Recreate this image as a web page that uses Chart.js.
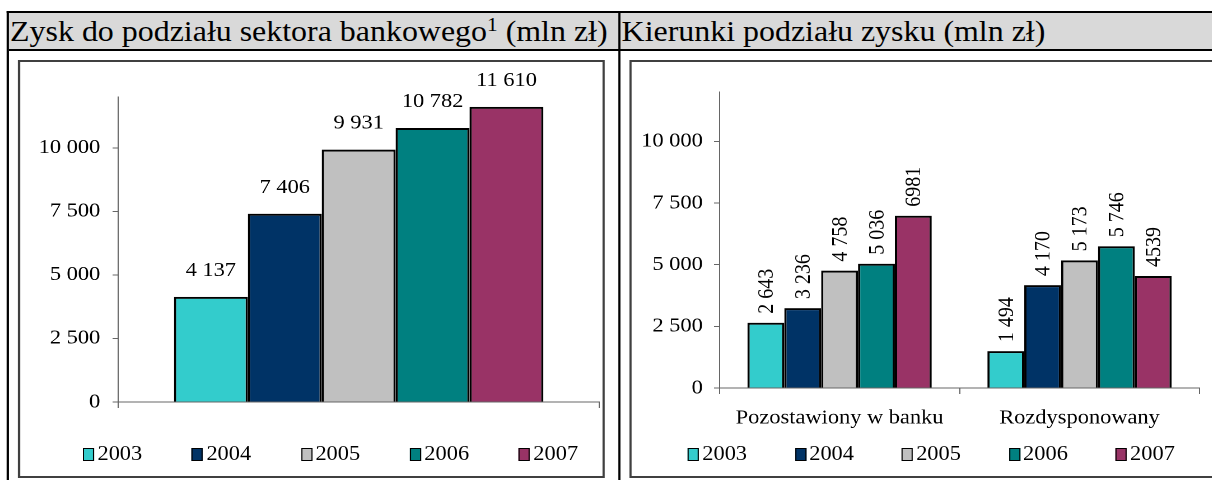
<!DOCTYPE html>
<html lang="pl">
<head>
<meta charset="utf-8">
<title>Zysk do podziału sektora bankowego</title>
<script src="https://cdn.jsdelivr.net/npm/chart.js@4.4.1/dist/chart.umd.min.js"></script>
<style>
    html, body { margin: 0; padding: 0; background: #fff; overflow: hidden; }
    body { width: 1212px; height: 480px; position: relative; }

    /* The source page is printed slightly wide, so lay out narrow and stretch */
    #page {
        position: absolute; left: 0; top: 0; width: 1083px; height: 480px;
        transform: scaleX(1.12); transform-origin: 0 0;
        font-family: "Liberation Serif", "Times New Roman", serif; color: #000;
    }
    .outer { position: absolute; left: 6px; top: 11px; width: 1100px; height: 480px; border-left: 2px solid #000; border-top: 2px solid #000; }
    .head { position: absolute; left: 8px; top: 13px; width: 1100px; height: 36px; background: #d9d9d9; border-bottom: 2px solid #000; }
    .divider { position: absolute; left: 552px; top: 13px; width: 2px; height: 470px; background: #000; }
    .title { position: absolute; top: 14px; height: 36px; line-height: 36px; font-size: 28.5px; white-space: nowrap; }
    .title sup { font-size: 19px; line-height: 1; vertical-align: top; position: relative; top: 1px; }

    .frame { position: absolute; top: 60px; height: 418px; box-sizing: border-box; border: 2px solid #404040; }
    .chart-box { position: absolute; top: 62px; width: 520px; height: 414px; }

    .legend { position: absolute; top: 441px; height: 24px; font-size: 20px; line-height: 24px; white-space: nowrap; }
    .legend span { position: absolute; top: 0; }
    .legend i { display: inline-block; width: 8px; height: 11px; border: 1.5px solid #000; margin-right: 3px; vertical-align: -1px; }
</style>
</head>
<body>
<div id="page">
    <div class="outer"></div>
    <div class="head"></div>
    <div class="divider"></div>
    <div class="title" style="left:9px">Zysk do podziału sektora bankowego<sup>1</sup> (mln zł)</div>
    <div class="title" style="left:555px">Kierunki podziału zysku (mln zł)</div>

    <div class="frame" style="left:16px; width:524px"></div>
    <div class="frame" style="left:562px; width:560px"></div>

    <div class="chart-box" style="left:18px"><canvas id="totalChart"></canvas></div>
    <div class="chart-box" style="left:564px"><canvas id="splitChart"></canvas></div>

    <div class="legend" id="totalLegend" style="left:74px"></div>
    <div class="legend" id="splitLegend" style="left:614px"></div>
</div>

<script>
// ---- data ----
const years = ['2003', '2004', '2005', '2006', '2007'];
const profitTotal = [4137, 7406, 9931, 10782, 11610];

const splitCategories = ['Pozostawiony w banku', 'Rozdysponowany'];
const retained = [2643, 3236, 4758, 5036, 6981];
const distributed = [1494, 4170, 5173, 5746, 4539];

const yTicks = [0, 2500, 5000, 7500, 10000];
const yMax = 12000;

// in the right chart the 2007 labels are printed without the thousands space
const plainLabelYears = ['2007'];

const colors = ['#33cccc', '#003366', '#c0c0c0', '#008080', '#993366'];

// ---- helpers ----
const spaced = v => String(v).replace(/\B(?=(\d{3})+(?!\d))/g, ' ');
const serif = { family: '"Liberation Serif", "Times New Roman", serif', size: 20 };

// Value labels above each bar (optionally rotated)
const valueLabels = {
    id: 'valueLabels',
    afterDatasetsDraw(chart, args, opts) {
        const ctx = chart.ctx;
        ctx.save();
        ctx.font = '20px "Liberation Serif"';
        ctx.fillStyle = '#000';
        chart.data.datasets.forEach((ds, i) => {
            const plain = (opts.plain || []).includes(ds.label);
            chart.getDatasetMeta(i).data.forEach((bar, j) => {
                const v = ds.data[j];
                const text = plain ? String(v) : spaced(v);
                if (opts.rotate) {
                    ctx.save();
                    ctx.translate(bar.x, bar.y - opts.offset);
                    ctx.rotate(-Math.PI / 2);
                    ctx.textAlign = 'left';
                    ctx.textBaseline = 'middle';
                    ctx.fillText(text, 0, 1);
                    ctx.restore();
                } else {
                    ctx.textAlign = 'center';
                    ctx.textBaseline = 'alphabetic';
                    ctx.fillText(text, bar.x, bar.y - opts.offset);
                }
            });
        });
        ctx.restore();
    }
};

function makeChart(id, cfg) {
    return new Chart(document.getElementById(id), {
        type: 'bar',
        data: {
            labels: cfg.labels,
            datasets: years.map((y, i) => ({
                label: y,
                data: cfg.series(i),
                backgroundColor: colors[i],
                borderColor: '#000',
                borderWidth: 2,
                barPercentage: 1,
                categoryPercentage: 0.768
            }))
        },
        options: {
            responsive: true,
            maintainAspectRatio: false,
            animation: false,
            devicePixelRatio: 2,
            layout: { padding: { top: cfg.top, right: cfg.right, left: 0, bottom: 0 } },
            plugins: {
                legend: { display: false },
                tooltip: { enabled: false },
                valueLabels: cfg.labelOpts
            },
            scales: {
                x: {
                    grid: { drawOnChartArea: false, offset: true, tickLength: 6, color: '#666' },
                    border: { color: '#666', width: 1 },
                    ticks: { display: cfg.showCats, font: serif, color: '#000', padding: 12, maxRotation: 0 },
                    afterFit: s => { s.height = cfg.xHeight; }
                },
                y: {
                    min: 0,
                    max: yMax,
                    afterBuildTicks: s => { s.ticks = yTicks.map(v => ({ value: v })); },
                    grid: { drawOnChartArea: false, tickLength: 5, color: '#666' },
                    border: { color: '#666', width: 1 },
                    ticks: { callback: v => spaced(v), font: serif, color: '#000', padding: cfg.yPad },
                    afterFit: s => { s.width = cfg.yWidth; }
                }
            }
        },
        plugins: [valueLabels]
    });
}

// Left: total profit, one group
makeChart('totalChart', {
    labels: [''],
    series: i => [profitTotal[i]],
    showCats: false,
    top: 35, right: 3, xHeight: 74, yWidth: 87.5, yPad: 11,
    labelOpts: { rotate: false, offset: 21 }
});

// Right: retained vs distributed
makeChart('splitChart', {
    labels: splitCategories,
    series: i => [retained[i], distributed[i]],
    showCats: true,
    top: 30, right: 13, xHeight: 88, yWidth: 78.5, yPad: 10,
    labelOpts: { rotate: true, offset: 9, plain: plainLabelYears }
});

// HTML legends
function buildLegend(id, step) {
    const el = document.getElementById(id);
    years.forEach((y, i) => {
        const item = document.createElement('span');
        item.style.left = (i * step) + 'px';
        item.innerHTML = '<i style="background:' + colors[i] + '"></i>' + y;
        el.appendChild(item);
    });
}
buildLegend('totalLegend', 97.3);
buildLegend('splitLegend', 95.5);
</script>
</body>
</html>
